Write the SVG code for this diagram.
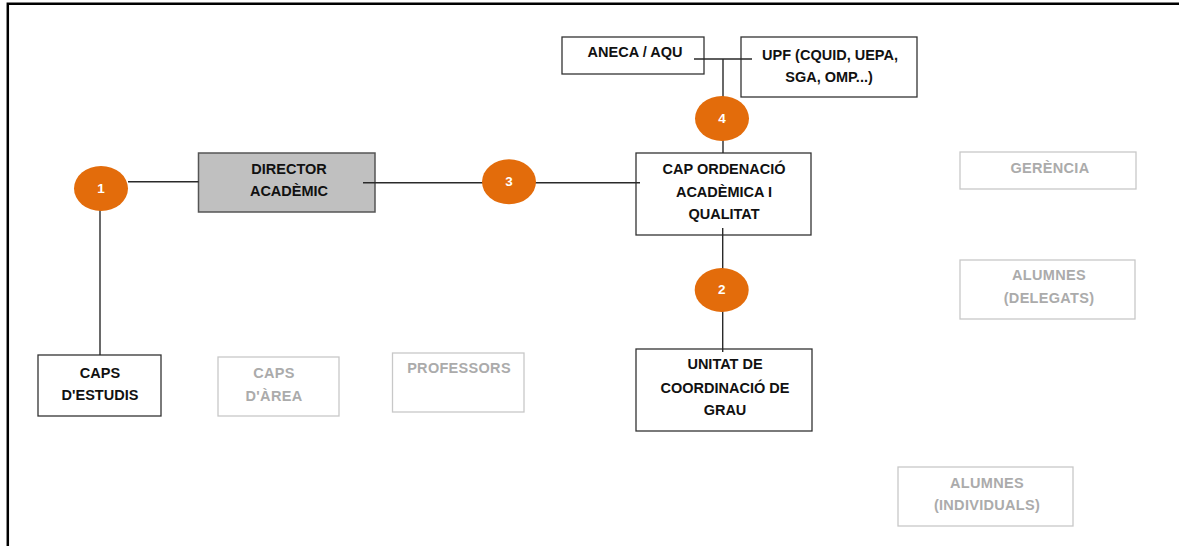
<svg xmlns="http://www.w3.org/2000/svg" width="1179" height="546" viewBox="0 0 1179 546">
<style>
.box{fill:#fff;stroke:#333;stroke-width:1.3}
.dir{fill:#c0c0c0;stroke:#555;stroke-width:1.5}
.gbox{fill:#fff;stroke:#c8c8c8;stroke-width:1.3}
.t{font-family:"Liberation Sans",Arial,sans-serif;font-weight:bold;font-size:14.5px;fill:#111;text-anchor:middle}
.gt{font-family:"Liberation Sans",Arial,sans-serif;font-weight:bold;font-size:14.5px;fill:#ababab;text-anchor:middle;letter-spacing:0.3px}
.c{fill:#e36c0b}
.ct{font-family:"Liberation Sans",Arial,sans-serif;font-weight:bold;font-size:13.5px;fill:#fff;text-anchor:middle}
.ln{stroke:#2a2a2a;stroke-width:1.4;fill:none}
</style>
<path d="M7.8,546 V3.7 H1179" fill="none" stroke="#000" stroke-width="2.5"/>
<g id="director"><rect class="dir" x="198.5" y="153" width="176.5" height="59"/><text class="t" x="289" y="174">DIRECTOR</text><text class="t" x="289" y="196">ACADÈMIC</text></g>
<g id="cap-ordenacio"><rect class="box" x="636" y="153" width="175" height="82"/><text class="t" x="724" y="174">CAP ORDENACIÓ</text><text class="t" x="724" y="197">ACADÈMICA I</text><text class="t" x="724" y="219">QUALITAT</text></g>
<g id="aneca"><rect class="box" x="562" y="37" width="142" height="37"/><text class="t" x="635" y="57">ANECA / AQU</text></g>
<g id="upf"><rect class="box" x="741" y="37" width="176" height="60"/><text class="t" x="830" y="60">UPF (CQUID, UEPA,</text><text class="t" x="829" y="82">SGA, OMP...)</text></g>
<g id="caps-estudis"><rect class="box" x="38" y="355" width="123" height="61"/><text class="t" x="100" y="378">CAPS</text><text class="t" x="100" y="400">D'ESTUDIS</text></g>
<g id="caps-area"><rect class="gbox" x="218" y="357" width="121" height="59"/><text class="gt" x="274" y="378">CAPS</text><text class="gt" x="274" y="400.5">D'ÀREA</text></g>
<g id="professors"><rect class="gbox" x="392.5" y="353" width="131.5" height="59"/><text class="gt" x="459" y="373">PROFESSORS</text></g>
<g id="unitat"><rect class="box" x="636" y="349" width="176" height="82"/><text class="t" x="725" y="369">UNITAT DE</text><text class="t" x="725" y="392.5">COORDINACIÓ DE</text><text class="t" x="725" y="415">GRAU</text></g>
<g id="gerencia"><rect class="gbox" x="960" y="152" width="176" height="37"/><text class="gt" x="1050" y="172.5">GERÈNCIA</text></g>
<g id="alumnes-delegats"><rect class="gbox" x="960" y="260" width="175" height="59"/><text class="gt" x="1049" y="280">ALUMNES</text><text class="gt" x="1049" y="302.5">(DELEGATS)</text></g>
<g id="alumnes-individuals"><rect class="gbox" x="898" y="467" width="175" height="59"/><text class="gt" x="987" y="488">ALUMNES</text><text class="gt" x="987" y="510">(INDIVIDUALS)</text></g>
<g id="connectors">
<path class="ln" d="M128,181.7 H198.5"/>
<path class="ln" d="M100,205 V355" stroke="#555"/>
<path class="ln" d="M363,182.7 H640"/>
<path class="ln" d="M694,59 H752 M723,59 V153"/>
<path class="ln" d="M722.7,228 V352"/>
</g>
<g id="n1"><ellipse class="c" cx="101" cy="188.5" rx="27" ry="22.5"/><text class="ct" x="101" y="192.5">1</text></g>
<g id="n3"><ellipse class="c" cx="509" cy="181.8" rx="27" ry="22.5"/><text class="ct" x="509" y="186">3</text></g>
<g id="n4"><ellipse class="c" cx="722" cy="118.5" rx="27" ry="22.5"/><text class="ct" x="722" y="122.5">4</text></g>
<g id="n2"><ellipse class="c" cx="721.7" cy="290" rx="27" ry="22"/><text class="ct" x="721.7" y="294">2</text></g>
</svg>
